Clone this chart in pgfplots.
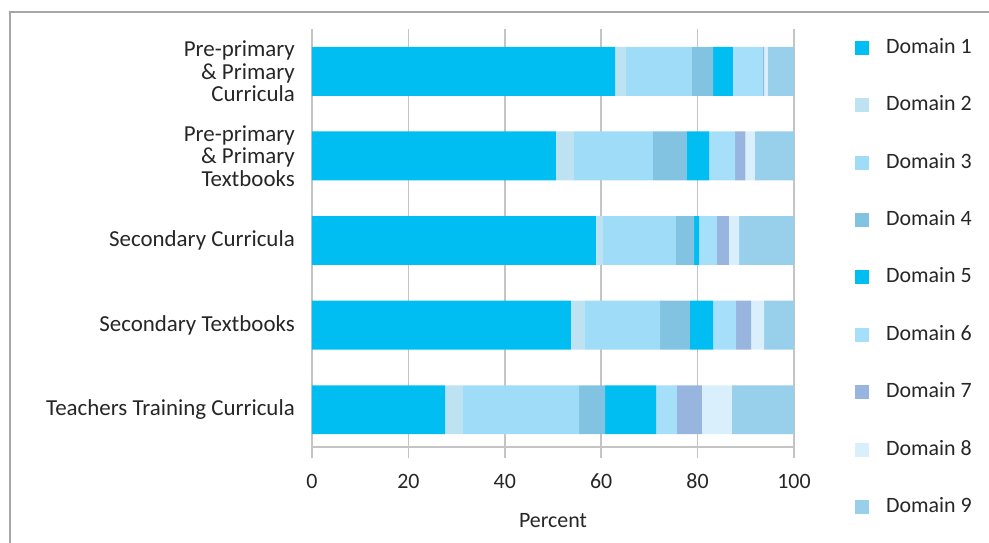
\documentclass[border=0pt]{standalone}
\usepackage{fontspec}
\setmainfont{Carlito}
\usepackage{pgfplots}
\pgfplotsset{compat=1.18}

\definecolor{dOne}{RGB}{0,190,242}
\definecolor{dTwo}{RGB}{189,226,242}
\definecolor{dThree}{RGB}{158,220,247}
\definecolor{dFour}{RGB}{130,195,225}
\definecolor{dFive}{RGB}{0,190,242}
\definecolor{dSix}{RGB}{166,223,249}
\definecolor{dSeven}{RGB}{151,181,222}
\definecolor{dEight}{RGB}{218,239,252}
\definecolor{dNine}{RGB}{152,207,235}
\definecolor{gridgray}{RGB}{196,196,196}
\definecolor{framegray}{RGB}{166,166,166}
\definecolor{txt}{RGB}{38,38,38}

\newcommand{\chartfont}{\fontsize{22}{22.5}\selectfont}
\newcommand{\catfont}{\fontsize{23}{22.5}\selectfont}

\pgfplotsset{
  dom/.style={fill=#1, draw=none,
    legend image code/.code={\fill[#1] (0bp,-7bp) rectangle (14bp,7bp);}},
}

\begin{document}
\begin{tikzpicture}
\path[use as bounding box] (-312bp,-96bp) rectangle (677bp,447bp);
\draw[framegray, line width=1.5bp] (-302bp,-96bp) -- (-302bp,435bp) -- (677bp,435bp);
\begin{axis}[
  scale only axis,
  width=482bp, height=418bp,
  xbar stacked,
  bar width=0.578,
  xmin=0, xmax=100,
  ymin=-0.44, ymax=4.5,
  axis x line*=bottom,
  axis y line*=left,
  axis line style={gridgray, line width=1.5bp},
  xtick={0,20,40,60,80,100},
  ytick={0,1,2,3,4},
  yticklabels={Teachers Training Curricula,Secondary Textbooks,Secondary Curricula,{Pre-primary\\\& Primary\\Textbooks},{Pre-primary\\\& Primary\\Curricula}},
  xmajorgrids,
  grid style={gridgray, line width=1.5bp},
  xtick style={gridgray, line width=1.5bp},
  ytick style={draw=none},
  tick align=outside,
  major tick length=11bp,
  /pgf/number format/assume math mode=true,
  ticklabel style={font=\chartfont, text=txt},
  yticklabel style={font=\catfont, align=right, inner sep=0pt, xshift=-6bp},
  xticklabel style={inner sep=0pt, anchor=center, yshift=-23bp},
  xlabel={Percent},
  xlabel style={font=\chartfont, text=txt, at={(axis description cs:0.5,-0.177)}, anchor=center},
  legend style={draw=none, fill=none, at={(1.1203,0.983)}, anchor=north west,
    font=\chartfont, text=txt, row sep=38.4bp,
    nodes={inner sep=0pt, text height=15bp, text depth=4bp}},
  legend cell align=left,
  /tikz/every odd column/.style={column sep=17bp},
]
\addplot[dom=dOne]   coordinates {(27.6,0) (53.7,1) (58.9,2) (50.6,3) (62.9,4)};
\addplot[dom=dTwo]   coordinates {(3.7,0) (2.9,1) (1.5,2) (3.8,3) (2.2,4)};
\addplot[dom=dThree] coordinates {(24.1,0) (15.6,1) (15.1,2) (16.3,3) (13.7,4)};
\addplot[dom=dFour]  coordinates {(5.4,0) (6.2,1) (3.8,2) (7.1,3) (4.4,4)};
\addplot[dom=dFive]  coordinates {(10.6,0) (4.8,1) (1.0,2) (4.6,3) (4.1,4)};
\addplot[dom=dSix]   coordinates {(4.3,0) (4.8,1) (3.7,2) (5.4,3) (6.3,4)};
\addplot[dom=dSeven] coordinates {(5.2,0) (3.1,1) (2.5,2) (2.1,3) (0.2,4)};
\addplot[dom=dEight] coordinates {(6.2,0) (2.7,1) (2.1,2) (2.0,3) (0.8,4)};
\addplot[dom=dNine]  coordinates {(12.9,0) (6.2,1) (11.4,2) (8.1,3) (5.4,4)};
\legend{Domain 1,Domain 2,Domain 3,Domain 4,Domain 5,Domain 6,Domain 7,Domain 8,Domain 9}
\end{axis}
\end{tikzpicture}
\end{document}
